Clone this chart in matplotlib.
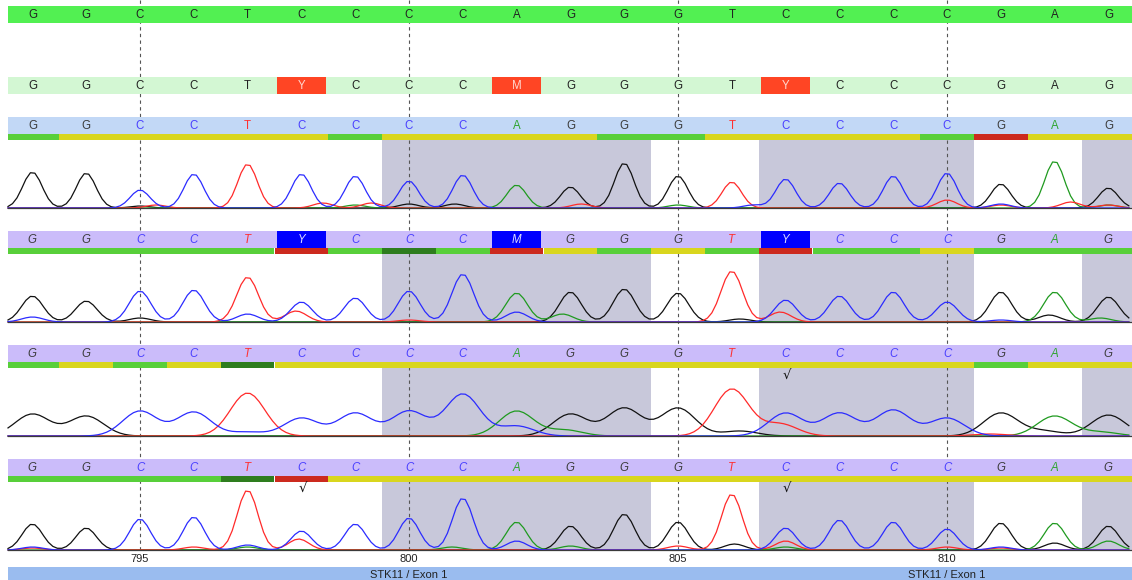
import numpy as np
import matplotlib
matplotlib.use("Agg")
import matplotlib.pyplot as plt
from matplotlib.patches import Rectangle

# sequence window (genomic positions) and base calls
positions = list(range(793, 814))
reference = "GGCCTCCCCAGGGTCCCCGAG"
consensus = "GGCCTYCCCMGGGTYCCCGAG"
read_calls = [reference, consensus, reference, reference]
tick_positions = [795, 800, 805, 810]
region_label = "STK11 / Exon 1"
region_label_positions = [800, 810]

# per-base quality class: g = good, d = very good, y = medium, r = poor
read_quality = [
    "gyyyyygyyyyggyyyygryy",
    "gggggrgdgrygygrggyggg",
    "gygyd" + "yyyyyyyyyyyyy" + "gyy",
    "ggggdr" + "yyyyyyyyyyyyyyy",
]
# bases inside the grey low-confidence regions
shaded_positions = [800, 801, 802, 803, 804, 807, 808, 809, 810, 813]
# base positions with a check mark under the read call
read3_checks = [807]
read4_checks = [798, 807]

# primary peak height (signal units) at each base, channel = called base
read1_heights = [36, 35, 18, 34, 44, 34, 32, 27, 33, 23, 21, 45, 32, 26, 29, 25, 32, 35, 24, 47, 20]
read2_heights = [26, 21, 31, 32, 45, 20, 24, 31, 48, 29, 30, 33, 29, 51, 22, 26, 30, 20, 30, 30, 25]
read3_heights = [22, 20, 25, 24, 43, 18, 23, 25, 42, 25, 22, 28, 28, 47, 23, 23, 26, 18, 23, 20, 21]
read4_heights = [26, 22, 31, 33, 60, 19, 26, 32, 52, 28, 24, 36, 28, 56, 22, 30, 28, 21, 27, 27, 24]

# secondary peaks: (position, channel, height)
read1_minor = [(795.3, "T", 3), (795.0, "G", 2), (798.4, "T", 5), (799.3, "T", 5), (799.0, "A", 3),
               (800.0, "G", 4), (800.85, "G", 4), (803.2, "T", 4), (805.0, "A", 3), (806.4, "C", 3),
               (810.0, "T", 8), (811.0, "C", 4), (811.0, "T", 3), (812.3, "T", 6),
               (813.0, "A", 3), (813.0, "T", 3)]
read2_minor = [(793.0, "C", 5), (795.0, "G", 4), (797.0, "C", 8), (797.9, "T", 11), (800.0, "T", 2),
               (802.0, "C", 10), (802.85, "A", 8), (806.15, "G", 3), (806.9, "T", 10),
               (811.0, "C", 2), (811.9, "G", 7), (812.85, "A", 4)]
read3_minor = [(797.0, "C", 4), (802.0, "C", 10), (802.9, "A", 6), (806.15, "G", 5), (806.9, "T", 12),
               (810.8, "T", 2), (811.8, "G", 5), (812.85, "A", 4)]
read4_minor = [(793.0, "C", 3), (793.0, "T", 2), (796.0, "T", 3), (797.0, "C", 5), (797.0, "A", 3),
               (797.95, "T", 11), (800.8, "A", 3), (802.0, "C", 9), (803.0, "A", 4), (805.0, "T", 4),
               (806.05, "G", 6), (807.0, "T", 9), (807.0, "A", 3), (810.0, "T", 3),
               (811.0, "C", 3), (811.0, "T", 2), (812.0, "G", 7), (813.0, "A", 9)]

read_heights = [read1_heights, read2_heights, read3_heights, read4_heights]
read_minor = [read1_minor, read2_minor, read3_minor, read4_minor]

# layout, in pixels
W, H = 1132, 580
PX_PER_BASE = 53.8
X0 = 795 - 140 / PX_PER_BASE
X1 = X0 + W / PX_PER_BASE
LEFT = X0 + 8 / PX_PER_BASE
BAR_H = 17
QUAL_H = 6
read_bar_tops = [117, 231, 345, 459]
read_sigma = [0.18, 0.20, 0.32, 0.19]

trace_colors = {"G": "#111111", "A": "#1f9a1f", "T": "#ff2a2a", "C": "#2b2bff"}
call_colors = {"G": "#3c3c3c", "A": "#2fa52f", "T": "#ff3030", "C": "#4a40ff"}
qual_colors = {"g": "#58cf3a", "d": "#2e7d1e", "y": "#d9d61e", "r": "#cc2a1e"}
FONT = "Liberation Sans"
LETTER_SIZE = 8.3


def bar(ax, top, height, color, x_from=LEFT, x_to=X1, z=4):
    ax.add_patch(Rectangle((x_from, top), x_to - x_from, height, facecolor=color,
                           edgecolor="none", antialiased=False, zorder=z))


def runs(items):
    """Group consecutive positions with the same key into (start, end, key) spans."""
    spans = []
    for p, key in items:
        if spans and spans[-1][2] == key and spans[-1][1] == p - 0.5:
            spans[-1][1] = p + 0.5
        else:
            spans.append([p - 0.5, p + 0.5, key])
    return [(max(a, LEFT), min(b, X1), k) for a, b, k in spans]


fig = plt.figure(figsize=(W / 100, H / 100), dpi=100)
ax = fig.add_axes([0, 0, 1, 1])
ax.set_xlim(X0, X1)
ax.set_ylim(H, 0)
ax.axis("off")

# reference row
bar(ax, 6, BAR_H, "#52f052")
for p, b in zip(positions, reference):
    ax.text(p, 15, b, ha="center", va="center", fontsize=LETTER_SIZE, color="#222222",
            family=FONT, zorder=6)

# consensus row, ambiguity codes boxed in red
bar(ax, 77, BAR_H, "#d3f7d3")
for p, b in zip(positions, consensus):
    if b in "ACGT":
        ax.text(p, 86, b, ha="center", va="center", fontsize=LETTER_SIZE, color="#222222",
                family=FONT, zorder=6)
    else:
        bar(ax, 77, BAR_H, "#ff4524", p - 0.455, p + 0.455, z=5)
        ax.text(p, 86, b, ha="center", va="center", fontsize=LETTER_SIZE, color="#ffd8d0",
                family=FONT, zorder=6)

xs = np.arange(LEFT, X1, 1 / 12)
for r in range(4):
    top = read_bar_tops[r]
    qtop = top + BAR_H
    base_y = top + 91
    italic = r > 0
    bar(ax, top, BAR_H, "#c2d8f6" if r == 0 else "#cbbcfa")

    # quality strip
    for a, b, q in runs(zip(positions, read_quality[r])):
        bar(ax, qtop, QUAL_H, qual_colors[q], a, b)

    # grey regions behind the traces
    for a, b, _ in runs((p, 1) for p in shaded_positions):
        bar(ax, qtop + QUAL_H, base_y - qtop - QUAL_H, "#c8c8da", a, b, z=1)

    # base calls
    for p, b in zip(positions, read_calls[r]):
        style = "italic" if italic else "normal"
        if b in "ACGT":
            ax.text(p, top + 9, b, ha="center", va="center", fontsize=LETTER_SIZE, style=style,
                    color=call_colors[b], family=FONT, zorder=6)
        else:
            bar(ax, top, BAR_H, "#0000ff", p - 0.455, p + 0.455, z=5)
            ax.text(p, top + 9, b, ha="center", va="center", fontsize=LETTER_SIZE, style=style,
                    color="#dcdcff", family=FONT, zorder=6)

    # chromatogram channels
    sigma = read_sigma[r]
    for ch in "GATC":
        sig = np.zeros_like(xs)
        for p, b, h in zip(positions, reference, read_heights[r]):
            if b == ch:
                sig += h * np.exp(-0.5 * ((xs - p) / sigma) ** 2)
        for p, b, h in read_minor[r]:
            if b == ch:
                sig += h * np.exp(-0.5 * ((xs - p) / sigma) ** 2)
        ax.plot(xs, base_y - sig, color=trace_colors[ch], lw=0.9, zorder=3)
    ax.plot([LEFT, X1], [base_y + 0.3, base_y + 0.3], color="#3a3a3a", lw=0.9, zorder=3.5)

for p in read3_checks:
    ax.text(p + 0.03, read_bar_tops[2] + BAR_H + QUAL_H + 7, "\u221a", ha="center",
            va="center", fontsize=9.5, color="#111111", family="DejaVu Sans", zorder=6)
for p in read4_checks:
    ax.text(p + 0.03, read_bar_tops[3] + BAR_H + QUAL_H + 6, "\u221a", ha="center",
            va="center", fontsize=9.5, color="#111111", family="DejaVu Sans", zorder=6)

# position guides and ticks
ax.vlines(tick_positions, 0, 552, colors="#555555", linestyles=(0, (3, 3)), lw=0.8, zorder=2)
for t in tick_positions:
    ax.text(t, 559, str(t), ha="center", va="center", fontsize=8, color="#222222",
            family=FONT, zorder=6)

# annotation track
bar(ax, 567, 13, "#9abcef")
for p in region_label_positions:
    ax.text(p, 575, region_label, ha="center", va="center", fontsize=8, color="#222222",
            family=FONT, zorder=6)

fig.savefig("out.png", dpi=100)
